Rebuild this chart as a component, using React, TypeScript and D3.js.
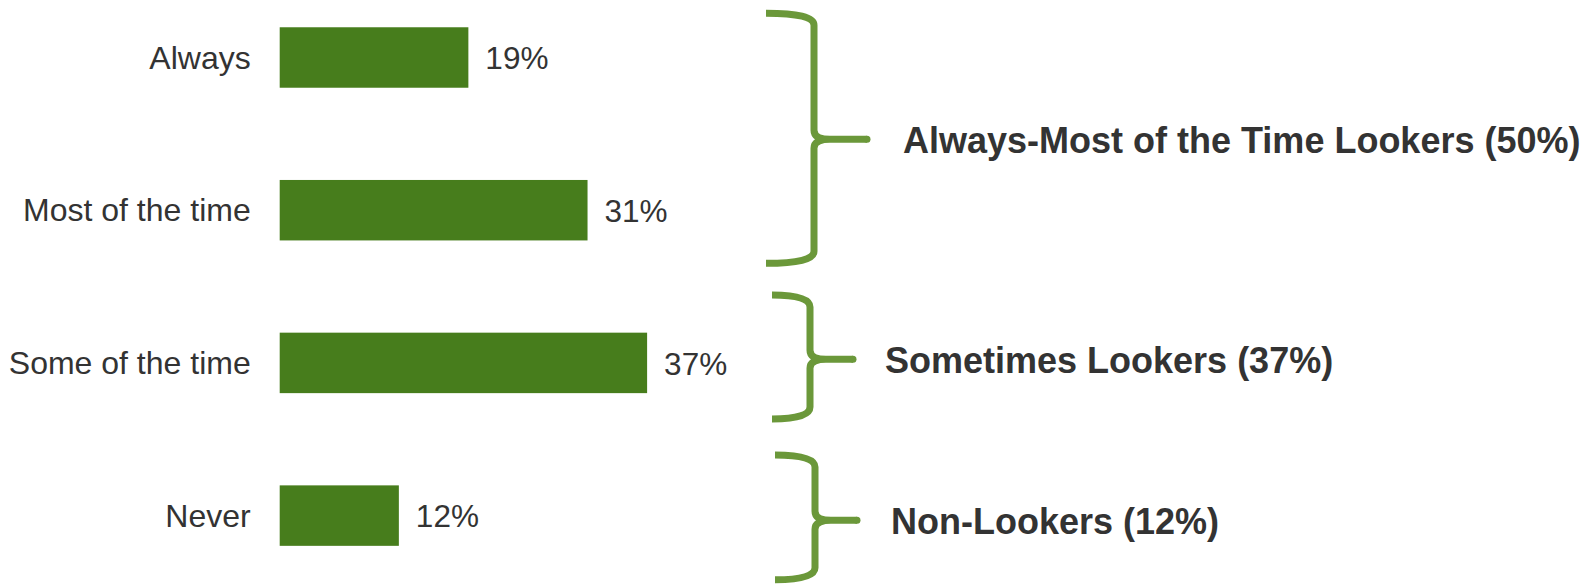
import * as d3 from "d3";

const categories = ["Always", "Most of the time", "Some of the time", "Never"];
const values = [19, 31, 37, 12];
const valueLabels = ["19%", "31%", "37%", "12%"];

const groupLabels = [
  "Always-Most of the Time Lookers (50%)",
  "Sometimes Lookers (37%)",
  "Non-Lookers (12%)",
];
const groupMembers = [
  ["Always", "Most of the time"],
  ["Some of the time"],
  ["Never"],
];

// bracket placement, in row units (0 = centre of first row) and px for x
const bracketLayout = [
  { top: -0.29, mid: 0.535, bottom: 1.348, x0: 766, xv: 814, xc: 867, tx: 903 },
  { top: 1.555, mid: 1.976, bottom: 2.367, x0: 772, xv: 810, xc: 853, tx: 885 },
  { top: 2.603, mid: 3.03, bottom: 3.42, x0: 775, xv: 815, xc: 857, tx: 891 },
];

const width = 1583;
const height = 587;
const barColor = "#477d1c";
const braceColor = "#6b983a";
const textColor = "#333333";
const font = "'Liberation Sans', Arial, sans-serif";

function bracePath(x0: number, xv: number, xc: number, yt: number, ym: number, yb: number) {
  const r = 12;
  const p = d3.path();
  p.moveTo(x0, yt);
  p.quadraticCurveTo(xv, yt, xv, yt + r);
  p.lineTo(xv, ym - 9);
  p.quadraticCurveTo(xv, ym, xv + 16, ym);
  p.lineTo(xc, ym);
  p.moveTo(xv + 16, ym);
  p.quadraticCurveTo(xv, ym, xv, ym + 9);
  p.lineTo(xv, yb - r);
  p.quadraticCurveTo(xv, yb, x0, yb);
  return p.toString();
}

export default function App() {
  const x = d3.scaleLinear().domain([0, 100]).range([279.7, 1272.7]);

  const y = d3
    .scaleBand<string>()
    .domain(categories)
    .range([-18.85, 591.95])
    .paddingInner(0.604)
    .paddingOuter(0.302);

  const bw = y.bandwidth();
  const center = (c: string) => (y(c) ?? 0) + bw / 2;
  const rowY = d3
    .scaleLinear()
    .domain([0, categories.length - 1])
    .range([center(categories[0]), center(categories[categories.length - 1])]);

  return (
    <svg
      width={width}
      height={height}
      style={{ position: "absolute", left: 0, top: 0, background: "#fff" }}
      fontFamily={font}
    >
      {/* category labels */}
      <g fontSize={32} fill={textColor} textAnchor="end">
        {categories.map((c) => (
          <text key={c} x={x(0) - 29} y={center(c)} dy="0.35em">
            {c}
          </text>
        ))}
      </g>

      {/* bars */}
      {categories.map((c, i) => (
        <rect
          key={c}
          x={x(0)}
          y={y(c)}
          width={x(values[i]) - x(0)}
          height={bw}
          fill={barColor}
        />
      ))}

      {/* value labels */}
      <g fontSize={31.5} fill={textColor}>
        {categories.map((c, i) => (
          <text key={c} x={x(values[i]) + 17} y={center(c)} dy="0.37em">
            {valueLabels[i]}
          </text>
        ))}
      </g>

      {/* group brackets */}
      {groupLabels.map((label, gi) => {
        const b = bracketLayout[gi];
        const yt = rowY(b.top);
        const ym = rowY(b.mid);
        const yb = rowY(b.bottom);
        return (
          <g key={label} data-members={groupMembers[gi].join("|")}>
            <path
              d={bracePath(b.x0, b.xv, b.xc, yt, ym, yb)}
              fill="none"
              stroke={braceColor}
              strokeWidth={7}
              strokeLinejoin="round"
            />
            <circle cx={b.xc} cy={ym} r={3.5} fill={braceColor} />
            <text
              x={b.tx}
              y={ym}
              dy="0.37em"
              fontSize={36}
              fontWeight="bold"
              fill={textColor}
            >
              {label}
            </text>
          </g>
        );
      })}
    </svg>
  );
}
